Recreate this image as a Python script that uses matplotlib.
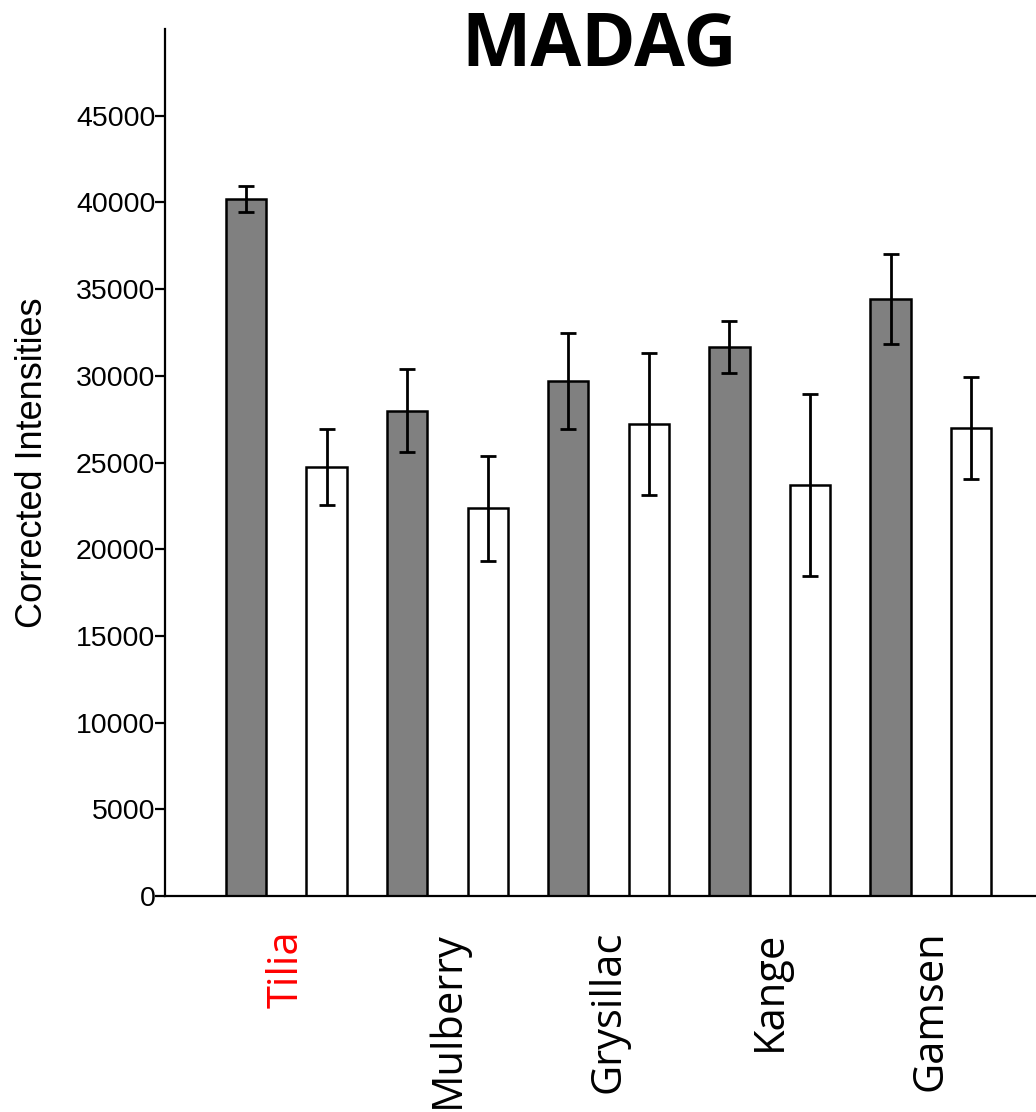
import numpy as np
import matplotlib.pyplot as plt

# values (gray = first of each pair, white = second)
sites = ['Tilia', 'Mulberry', 'Grysillac', 'Kange', 'Gamsen']
gray_vals = [40200, 28000, 29700, 31650, 34450]
gray_err = [750, 2380, 2780, 1500, 2600]
white_vals = [24750, 22350, 27200, 23700, 27000]
white_err = [2170, 3030, 4100, 5230, 2950]

fig = plt.figure(figsize=(10.36, 11.12), dpi=100)
ax = fig.add_axes([0.1593, 0.1942, 0.8407, 0.7797])

x = np.arange(len(sites)) * 2
eb = dict(ecolor='black', elinewidth=2, capsize=6, capthick=2)
ax.bar(x, gray_vals, width=0.5, color='#808080', edgecolor='black',
       linewidth=1.8, yerr=gray_err, error_kw=eb)
ax.bar(x + 1, white_vals, width=0.5, color='white', edgecolor='black',
       linewidth=1.8, yerr=white_err, error_kw=eb)

ax.set_xlim(-1.005, 9.806)
ax.set_ylim(0, 50000)
ax.set_yticks(np.arange(0, 45001, 5000))
ax.set_yticklabels([str(v) for v in range(0, 45001, 5000)],
                   fontfamily='Liberation Sans', fontsize=20.5)
ax.tick_params(axis='y', length=7, width=1.6, pad=0)

ax.set_xticks(x + 0.5)
ax.set_xticklabels(sites, rotation=90, fontfamily='Open Sans', fontsize=30,
                   va='top', ha='center')
ax.tick_params(axis='x', length=0, pad=25)
ax.get_xticklabels()[0].set_color('red')

for s in ['top', 'right']:
    ax.spines[s].set_visible(False)
for s in ['left', 'bottom']:
    ax.spines[s].set_linewidth(1.6)

ax.set_ylabel('Corrected Intensities', fontfamily='Liberation Sans', fontsize=26)
ax.yaxis.set_label_coords(-0.132, 0.5)

fig.text(0.5785, 1 - 65 / 1112, 'MADAG', ha='center', va='baseline',
         fontfamily='Open Sans', fontweight='bold', fontsize=53)

plt.savefig('out.png', dpi=100)
